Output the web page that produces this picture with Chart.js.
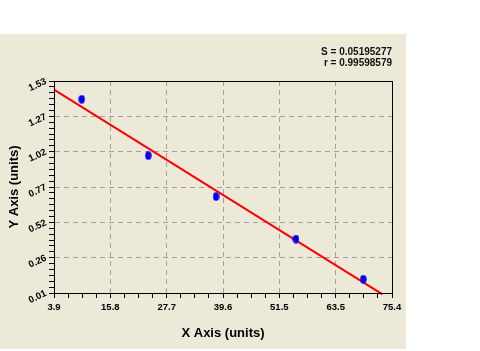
<!DOCTYPE html>
<html lang="en">
<head>
    <meta charset="UTF-8">
    <title>Standard curve</title>
    <script src="https://cdn.jsdelivr.net/npm/chart.js"></script>
    <style>
        body { margin: 0; background: #ffffff; }
        #painel {
            position: absolute; left: 0; top: 34px;
            width: 406px; height: 315px;
            background: #ece9d8;
        }
    </style>
</head>
<body>
    <div id="painel">
        <canvas id="curva" width="406" height="315"></canvas>
    </div>

    <script>
        // dados
        const xValues = [9.76, 23.85, 38.17, 55.09, 69.33];
        const yValues = [1.399, 0.995, 0.701, 0.397, 0.109];
        const fitX = [3.9, 73.4];
        const fitY = [1.468, 0.0];
        const xTickLabels = ['3.9', '15.8', '27.7', '39.6', '51.5', '63.5', '75.4'];
        const yTickLabels = ['0.01', '0.26', '0.52', '0.77', '1.02', '1.27', '1.53'];
        const statsText = ['S = 0.05195277', 'r = 0.99598579'];

        const xMin = parseFloat(xTickLabels[0]), xMax = parseFloat(xTickLabels[xTickLabels.length - 1]);
        const yMin = parseFloat(yTickLabels[0]), yMax = parseFloat(yTickLabels[yTickLabels.length - 1]);
        const xSub = 4, ySub = 6;
        const fonte = 'Arial, "Liberation Sans", sans-serif';

        // marcador oval azul
        const ponto = document.createElement('canvas');
        ponto.width = 7; ponto.height = 9;
        const pc = ponto.getContext('2d');
        pc.fillStyle = '#0000f0';
        pc.beginPath();
        pc.ellipse(3.5, 4.5, 3.2, 4.2, 0, 0, 2 * Math.PI);
        pc.fill();

        function minorTicks(min, max, n) {
            const t = [];
            for (let i = 0; i <= n; i++) t.push({ value: min + (max - min) * i / n });
            return t;
        }

        const moldura = {
            id: 'moldura',
            afterDatasetsDraw(chart) {
                const { ctx, chartArea: a } = chart;
                ctx.save();
                ctx.strokeStyle = '#000';
                ctx.lineWidth = 1;
                ctx.strokeRect(Math.round(a.left) + 0.5, Math.round(a.top) + 0.5,
                    Math.round(a.right - a.left), Math.round(a.bottom - a.top));
                ctx.restore();
            }
        };

        const ctx = document.getElementById('curva').getContext('2d');
        new Chart(ctx, {
            type: 'scatter',
            data: {
                datasets: [{
                    data: xValues.map((x, i) => ({ x: x, y: yValues[i] })),
                    pointStyle: ponto,
                    pointRadius: 4,
                    showLine: false
                }, {
                    data: fitX.map((x, i) => ({ x: x, y: fitY[i] })),
                    showLine: true,
                    borderColor: '#ff0000',
                    borderWidth: 2,
                    pointRadius: 0,
                    clip: false
                }]
            },
            options: {
                responsive: false,
                animation: false,
                events: [],
                layout: { padding: { top: 0, right: 14, bottom: 0, left: 0 } },
                plugins: {
                    legend: { display: false },
                    tooltip: { enabled: false },
                    title: {
                        display: true,
                        text: statsText,
                        align: 'end',
                        color: '#111',
                        font: { family: fonte, size: 10, weight: 'bold', lineHeight: 1.1 },
                        padding: { top: 12.5, bottom: 12.5 }
                    }
                },
                scales: {
                    x: {
                        type: 'linear',
                        min: xMin,
                        max: xMax,
                        afterBuildTicks: s => { s.ticks = minorTicks(xMin, xMax, xSub * (xTickLabels.length - 1)); },
                        afterFit: s => { s.height = 56; },
                        ticks: {
                            autoSkip: false,
                            maxRotation: 0,
                            padding: 4,
                            color: '#000',
                            font: { family: fonte, size: 9.5, weight: 'bold' },
                            callback: (v, i) => i % xSub === 0 ? xTickLabels[i / xSub] : ''
                        },
                        grid: {
                            color: c => c.index % xSub === 0 ? '#a0a0a0' : 'rgba(0,0,0,0)',
                            tickColor: '#000',
                            tickLength: 5
                        },
                        border: { color: '#000', width: 1, dash: [5, 4] },
                        title: {
                            display: true,
                            text: 'X Axis (units)',
                            color: '#000',
                            font: { family: fonte, size: 13, weight: 'bold' },
                            padding: { top: 0, bottom: 8 }
                        }
                    },
                    y: {
                        type: 'linear',
                        min: yMin,
                        max: yMax,
                        afterBuildTicks: s => { s.ticks = minorTicks(yMin, yMax, ySub * (yTickLabels.length - 1)); },
                        afterFit: s => { s.width = 54; },
                        ticks: {
                            autoSkip: false,
                            minRotation: 25,
                            padding: 3,
                            color: '#000',
                            font: { family: fonte, size: 9.5, weight: 'bold' },
                            callback: (v, i) => i % ySub === 0 ? yTickLabels[i / ySub] : ''
                        },
                        grid: {
                            color: c => c.index % ySub === 0 ? '#a0a0a0' : 'rgba(0,0,0,0)',
                            tickColor: '#000',
                            tickLength: 5
                        },
                        border: { color: '#000', width: 1, dash: [5, 4] },
                        title: {
                            display: true,
                            text: 'Y Axis (units)',
                            color: '#000',
                            font: { family: fonte, size: 13, weight: 'bold' },
                            padding: { top: 7, bottom: 0 }
                        }
                    }
                }
            },
            plugins: [moldura]
        });
    </script>
</body>
</html>
